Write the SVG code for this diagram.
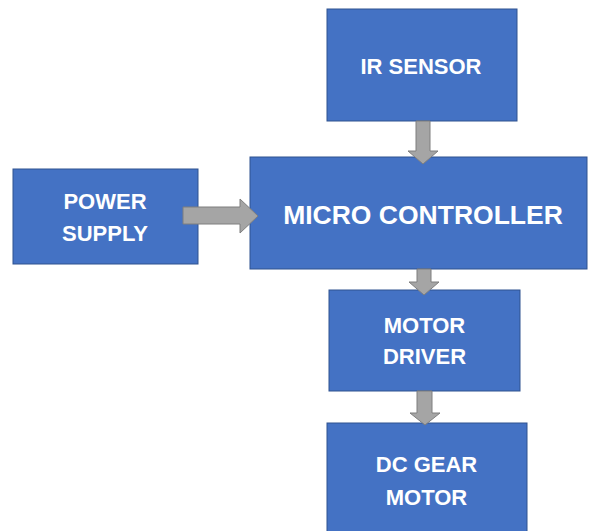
<svg xmlns="http://www.w3.org/2000/svg" width="590" height="531" viewBox="0 0 590 531">
<style>
.box{fill:#4472C4;stroke:#2F528F;stroke-width:1}
.arr{fill:#A5A5A5;stroke:#7F7F7F;stroke-width:1}
.t{fill:#FFFFFF;font-family:"Liberation Sans",Arial,sans-serif;font-weight:bold;font-size:22px;text-anchor:middle}
.big{font-size:26.5px}
</style>
<rect width="590" height="531" fill="#FFFFFF"/>
<g id="ir-sensor">
<rect class="box" x="327" y="9" width="190" height="112"/>
<text class="t" x="421" y="74">IR SENSOR</text>
</g>
<g id="power-supply">
<rect class="box" x="13" y="169" width="185" height="95"/>
<text class="t" x="105" y="209">POWER</text>
<text class="t" x="105" y="241">SUPPLY</text>
</g>
<g id="micro-controller">
<rect class="box" x="250" y="157" width="337" height="112"/>
<text class="t big" x="423" y="224">MICRO CONTROLLER</text>
</g>
<g id="motor-driver">
<rect class="box" x="329" y="290" width="191" height="101"/>
<text class="t" x="424.5" y="333">MOTOR</text>
<text class="t" x="424.5" y="364">DRIVER</text>
</g>
<g id="dc-gear-motor">
<rect class="box" x="327" y="423" width="200" height="112"/>
<text class="t" x="426.5" y="472">DC GEAR</text>
<text class="t" x="426.5" y="505">MOTOR</text>
</g>
<g id="connectors">
<path class="arr" d="M416,121 H430 V151 H438 L423,164 L408,151 H416 Z"/>
<path class="arr" d="M183,207 H240 V199 L258,216 L240,233 V224 H183 Z"/>
<path class="arr" d="M417,269 H431 V282 H439 L424,295 L409,282 H417 Z"/>
<path class="arr" d="M417,391 H432 V413 H440 L425,425 L410,413 H417 Z"/>
</g>
</svg>
